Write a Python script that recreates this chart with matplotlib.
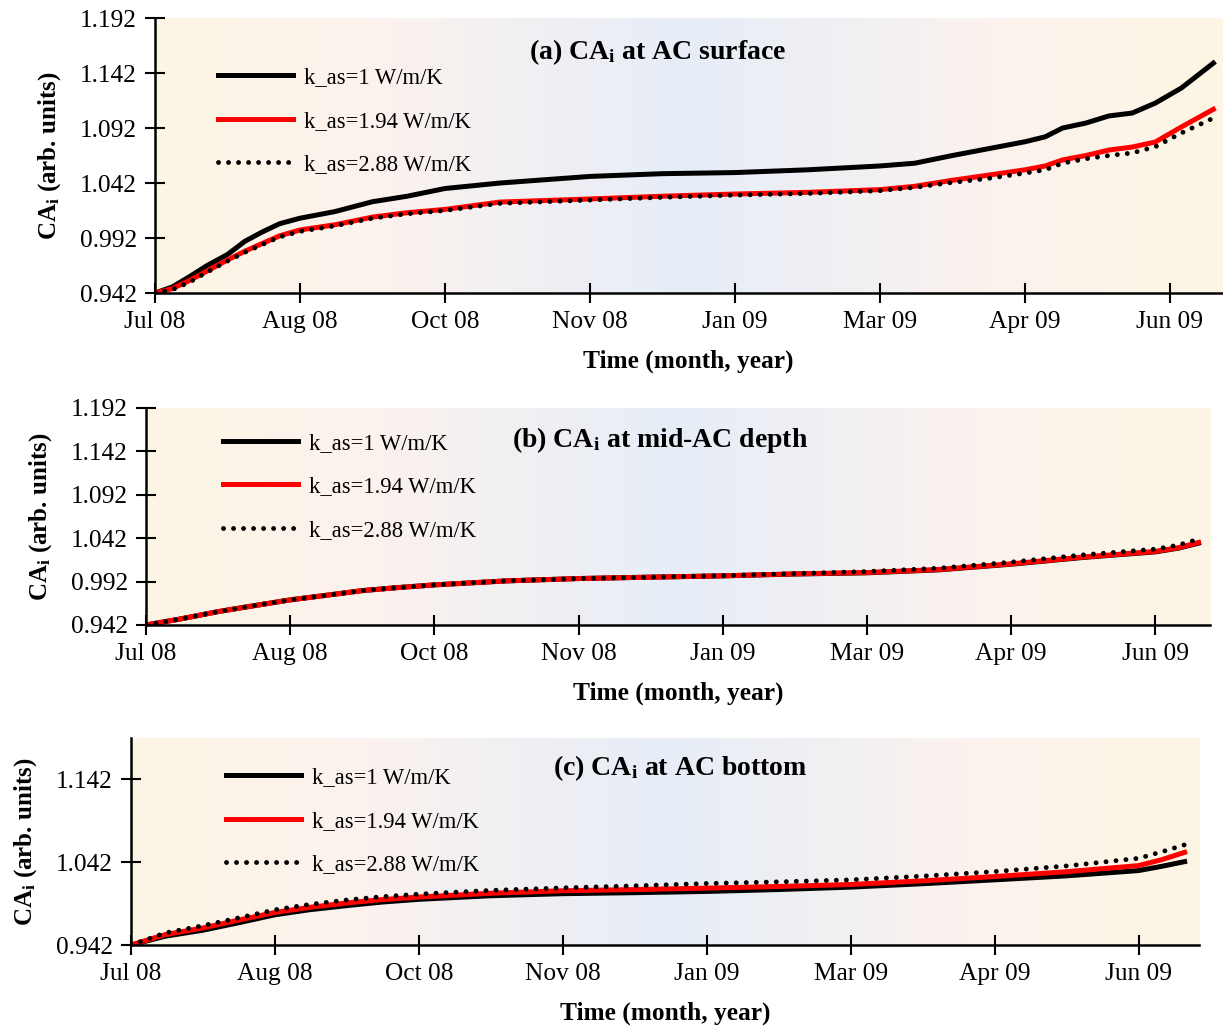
import numpy as np
import matplotlib.pyplot as plt
from matplotlib.colors import LinearSegmentedColormap

plt.rcParams['font.family'] = ['Liberation Serif', 'DejaVu Serif']
plt.rcParams['mathtext.fontset'] = 'custom'
plt.rcParams['mathtext.rm'] = 'Liberation Serif'
plt.rcParams['mathtext.it'] = 'Liberation Serif:italic'
plt.rcParams['mathtext.bf'] = 'Liberation Serif:bold'

# x axis = days since 1 Jul 2008, ticks every 50 days (like the excel date axis)
tick_days = [0, 50, 100, 150, 200, 250, 300, 350]
tick_labels = ['Jul 08', 'Aug 08', 'Oct 08', 'Nov 08', 'Jan 09', 'Mar 09', 'Apr 09', 'Jun 09']
series_labels = ['k_as=1 W/m/K', 'k_as=1.94 W/m/K', 'k_as=2.88 W/m/K']

# (a) AC surface
days_a = [0, 6, 12, 18, 25, 31, 37, 43, 50, 62, 75, 87, 100, 119, 150, 175, 200, 225,
          250, 262, 275, 287, 300, 307, 313, 321, 329, 337, 345, 354, 365]
k1_a = [0.942, 0.9475, 0.957, 0.967, 0.977, 0.989, 0.9975, 1.005, 1.010, 1.016, 1.025,
        1.030, 1.037, 1.042, 1.048, 1.0505, 1.0515, 1.054, 1.0575, 1.060, 1.067, 1.073,
        1.0795, 1.084, 1.092, 1.0965, 1.103, 1.1056, 1.1147, 1.1284, 1.151]
k194_a = [0.942, 0.946, 0.9535, 0.962, 0.972, 0.980, 0.987, 0.994, 0.9993, 1.004, 1.011,
          1.015, 1.018, 1.0247, 1.0275, 1.030, 1.032, 1.0335, 1.036, 1.039, 1.0445, 1.049,
          1.054, 1.0575, 1.063, 1.067, 1.072, 1.0747, 1.0793, 1.093, 1.109]
k288_a = [0.942, 0.945, 0.952, 0.961, 0.971, 0.979, 0.986, 0.993, 0.998, 1.003, 1.010,
          1.014, 1.017, 1.0235, 1.0265, 1.029, 1.031, 1.0325, 1.035, 1.038, 1.0425, 1.046,
          1.051, 1.054, 1.060, 1.064, 1.067, 1.0693, 1.075, 1.0875, 1.101]

# (b) mid-AC depth
days_b = [0, 12, 25, 37, 50, 62, 75, 87, 100, 125, 150, 175, 200, 225, 250, 275, 300,
          325, 350, 358, 365]
k1_b = [0.942, 0.949, 0.9574, 0.964, 0.9709, 0.976, 0.9816, 0.985, 0.9882, 0.9928,
        0.9955, 0.9971, 0.9986, 1.0007, 1.0021, 1.0055, 1.0120, 1.0198, 1.0262, 1.0305,
        1.0362]
k194_b = [0.942, 0.949, 0.9574, 0.964, 0.9709, 0.976, 0.9816, 0.985, 0.9882, 0.9928,
          0.9955, 0.9971, 0.9986, 1.0009, 1.0024, 1.0059, 1.0124, 1.0202, 1.0267, 1.031,
          1.037]
k288_b = [0.942, 0.949, 0.9574, 0.964, 0.9709, 0.976, 0.9816, 0.985, 0.9882, 0.9928,
          0.9955, 0.9971, 0.9988, 1.0012, 1.0036, 1.0074, 1.0144, 1.0228, 1.0294, 1.034,
          1.0409]

# (c) AC bottom
days_c = [0, 12, 25, 37, 50, 62, 75, 87, 100, 125, 150, 175, 200, 225, 250, 275, 300,
          325, 350, 358, 366]
k1_c = [0.942, 0.9527, 0.9599, 0.9686, 0.9785, 0.9846, 0.9896, 0.9938, 0.9972, 1.0015,
        1.0040, 1.0052, 1.0067, 1.0090, 1.0119, 1.0160, 1.0207, 1.0255, 1.0319, 1.0370,
        1.0427]
k194_c = [0.942, 0.9547, 0.9626, 0.9718, 0.9813, 0.9875, 0.9928, 0.9968, 0.9999, 1.0045,
          1.0075, 1.0090, 1.0107, 1.0127, 1.0151, 1.0195, 1.0247, 1.0305, 1.0379, 1.0450,
          1.0539]
k288_c = [0.942, 0.9567, 0.9654, 0.9745, 0.9845, 0.9910, 0.9964, 1.0003, 1.0035, 1.0080,
          1.0110, 1.0135, 1.0163, 1.0183, 1.0207, 1.0252, 1.0307, 1.0375, 1.0467, 1.0545,
          1.0630]

# cream -> pink -> light blue -> pink -> cream, left to right
bg = LinearSegmentedColormap.from_list('bg', [
    (0.0, '#fdf6e5'), (0.22, '#fbf2ee'), (0.5, '#e6edf8'), (0.78, '#fbf2ee'), (1.0, '#fdf6e4')])

fig = plt.figure(figsize=(12.23, 10.31), dpi=100)

panels = [
    # rect, xmax, ytick step, title, title pos, legend anchor, data
    ([0.1267, 0.7158, 0.8725, 0.2667], 368, 0.05, '(a) CA$_\\mathbf{i}$ at AC surface',
     (0.471, 0.876), (0.040, 0.896), days_a, [k1_a, k194_a, k288_a]),
    ([0.1194, 0.3938, 0.8700, 0.2105], 369, 0.05, '(b) CA$_\\mathbf{i}$ at mid-AC depth',
     (0.483, 0.853), (0.053, 0.98), days_b, [k1_b, k194_b, k288_b]),
    ([0.1071, 0.0834, 0.8733, 0.2008], 371, 0.10, '(c) CA$_\\mathbf{i}$ at AC bottom',
     (0.514, 0.855), (0.07, 0.958), days_c, [k1_c, k194_c, k288_c]),
]

for rect, xmax, step, title, tpos, lpos, days, ys in panels:
    ax = fig.add_axes(rect)
    grad = np.linspace(0, 1, 512).reshape(1, -1)
    ax.imshow(grad, cmap=bg, aspect='auto', extent=(0, 1, 0, 1),
              transform=ax.transAxes, zorder=0)

    ax.plot(days, ys[0], color='black', lw=3.6, label=series_labels[0], zorder=3)
    ax.plot(days, ys[1], color='#ff0000', lw=3.6, label=series_labels[1], zorder=4)
    ax.plot(days, ys[2], color='black', lw=3.5, linestyle=(0, (0.01, 2.05)),
            dash_capstyle='round', label=series_labels[2], zorder=5)

    ax.set_xlim(0, xmax)
    ax.set_ylim(0.942, 1.192)
    ax.set_xticks(tick_days)
    ax.set_xticklabels(tick_labels)
    ax.set_yticks(np.arange(0.942, 1.1921, step))
    ax.yaxis.set_major_formatter(plt.FormatStrFormatter('%.3f'))
    ax.tick_params(direction='inout', length=14, width=1.5, labelsize=18.3, pad=6)

    for s in ['top', 'right']:
        ax.spines[s].set_visible(False)
    for s in ['left', 'bottom']:
        ax.spines[s].set_linewidth(1.8)
        ax.spines[s].set_zorder(6)

    ax.set_xlabel('Time (month, year)', fontsize=18.3, fontweight='bold', labelpad=12)
    ax.set_ylabel('CA$_\\mathbf{i}$ (arb. units)', fontsize=18, fontweight='bold', labelpad=12)
    ax.text(tpos[0], tpos[1], title, transform=ax.transAxes, ha='center', va='center',
            fontsize=20, fontweight='bold', zorder=7)

    ax.legend(loc='upper left', bbox_to_anchor=lpos, frameon=False, fontsize=16.3,
              handlelength=3.3, handletextpad=0.5, labelspacing=1.0)

plt.savefig('out.png', dpi=100)
